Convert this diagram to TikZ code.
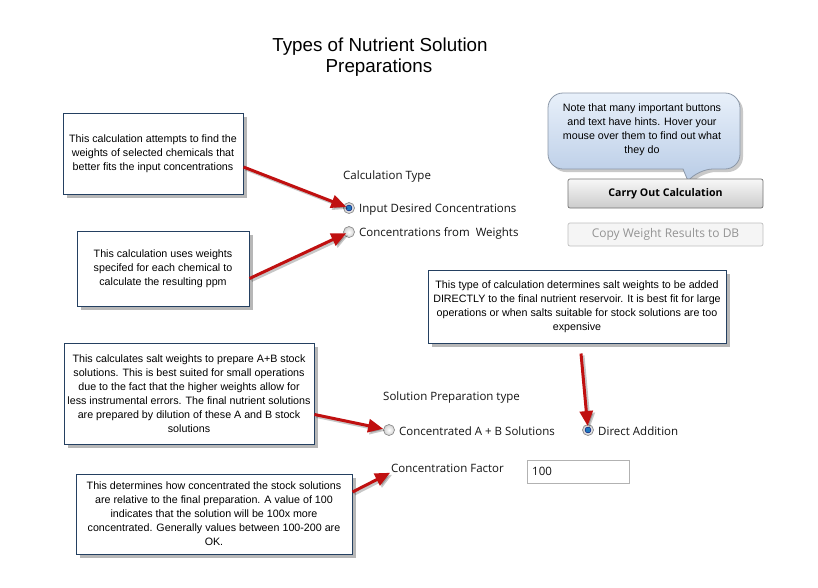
\documentclass[tikz,border=0pt]{standalone}
\usepackage{fontspec}
\setmainfont{Liberation Sans}
\newfontfamily\uifont{Open Sans}
\usetikzlibrary{shadows,arrows.meta,calc}
\definecolor{navy}{RGB}{36,64,97}
\definecolor{arrred}{RGB}{192,16,16}
\definecolor{bubtop}{RGB}{232,240,250}
\definecolor{bubbot}{RGB}{185,204,230}
\definecolor{bubedge}{RGB}{140,152,168}
\definecolor{dotblue}{RGB}{30,120,190}
\definecolor{uitext}{RGB}{20,20,20}
\tikzset{
  callout/.style={draw=navy, line width=1pt, fill=white, inner sep=0pt, align=center,
    font=\fontsize{10.7}{14}\selectfont,
    drop shadow={opacity=0.4, shadow xshift=4pt, shadow yshift=-4pt, fill=black!70}},
  redarrow/.style={draw=arrred, line width=3pt, -{Triangle[length=15pt,width=13pt]}},
  arrshadow/.style={draw=black, opacity=0.22, line width=3pt, -{Triangle[length=15pt,width=13pt]}},
  radio/.style={circle, draw=black!45, line width=0.7pt, inner sep=0pt, minimum size=11pt,
    inner color=white, outer color=black!18},
  radioon/.style={path picture={\fill[dotblue, draw=black!60!blue, line width=0.4pt]
    (path picture bounding box.center) circle (3pt);}},
  ui/.style={anchor=base west, inner sep=0pt, text=uitext, font=\uifont\fontsize{11.5}{13}\selectfont},
  bubble/.style={draw=bubedge, line width=0.8pt, top color=bubtop, bottom color=bubbot,
    drop shadow={opacity=0.35, shadow xshift=3pt, shadow yshift=-3pt, fill=black!60}},
  btnon/.style={draw=black!55, line width=0.7pt, rounded corners=2pt, top color=black!3, bottom color=black!20,
    minimum width=195pt, minimum height=29pt, inner sep=0pt,
    font=\uifont\bfseries\fontsize{10.6}{12}\selectfont, text=black},
  btnoff/.style={draw=black!25, line width=0.7pt, rounded corners=2pt, fill=black!4,
    minimum width=195pt, minimum height=23pt, inner sep=0pt,
    font=\uifont\fontsize{12}{13}\selectfont, text=black!42},
  tbox/.style={draw=black!30, line width=0.7pt, fill=white, minimum width=102pt, minimum height=23pt, inner sep=0pt},
  titlefont/.style={anchor=base, inner sep=0pt, font=\fontsize{18.8}{21}\selectfont, text=black}
}
\begin{document}
\begin{tikzpicture}[x=1pt,y=-1pt]
\useasboundingbox[fill=white] (0,0) rectangle (818,587);

% title
\node[titlefont] (t1) at (380,51) {Types of Nutrient Solution};
\node[titlefont] (t2) at (379,72) {Preparations};

% callouts
\node[callout, minimum width=180pt, minimum height=81pt] (c1) at (153,153.5)
  {This calculation attempts to find the\\ weights of selected chemicals that\\ better fits the input concentrations};
\node[callout, minimum width=172pt, minimum height=75pt] (c2) at (163,268.5)
  {This calculation uses weights\\ specifed for each chemical to\\ calculate the resulting ppm};
\node[callout, minimum width=298pt, minimum height=73pt] (c3) at (577,306.5)
  {This type of calculation determines salt weights to be added\\ DIRECTLY to the final nutrient reservoir. It is best fit for large\\ operations or when salts suitable for stock solutions are too\\ expensive};
\node[callout, minimum width=250pt, minimum height=101pt] (c4) at (189,393.5)
  {This calculates salt weights to prepare A+B stock\\ solutions. This is best suited for small operations\\ due to the fact that the higher weights allow for\\ less instrumental errors. The final nutrient solutions\\ are prepared by dilution of these A and B stock\\ solutions};
\node[callout, minimum width=276pt, minimum height=80pt] (c5) at (214,514)
  {This determines how concentrated the stock solutions\\ are relative to the final preparation. A value of 100\\ indicates that the solution will be 100x more\\ concentrated. Generally values between 100-200 are\\ OK.};

% speech bubble
\path[bubble] (548,93) [rounded corners=15pt] -- (740,93) -- (740,169) -- (698,169) [sharp corners] -- (688,181) -- (683,169) [rounded corners=15pt] -- (548,169) -- cycle;
\node[align=center, inner sep=0pt, font=\fontsize{10.7}{14}\selectfont] (bt) at (642,130)
  {Note that many important buttons\\ and text have hints. Hover your\\ mouse over them to find out what\\ they do};

% buttons
\node[btnon] (b1) at (665.5,193.5) {Carry Out Calculation};
\node[btnoff] (b2) at (665.5,234.5) {Copy Weight Results to DB};

% radio buttons and labels
\node[ui] (lct) at (343,179) {Calculation Type};
\node[radio, radioon] (r1) at (349,208) {};
\node[radio] (r2) at (349,232) {};
\node[ui] (l1) at (359,212.5) {Input Desired Concentrations};
\node[ui] (l2) at (359,236.5) {Concentrations from\ \ Weights};

\node[ui] (lspt) at (383,400) {Solution Preparation type};
\node[radio] (r3) at (389,430) {};
\node[radio, radioon] (r4) at (588,430) {};
\node[ui] (l3) at (399,435) {Concentrated A + B Solutions};
\node[ui] (l4) at (598,435) {Direct Addition};

\node[ui] (cf) at (391,472) {Concentration Factor};
\node[tbox] (tf) at (578,471.5) {};
\node[ui] (tv) at (532,475.5) {100};

% arrow start points
\coordinate (a1) at ([yshift=-13.5pt]c1.east);
\coordinate (a2) at ([yshift=-10pt]c2.east);
\coordinate (a3) at ([xshift=4pt,yshift=-10pt]c3.south);
\coordinate (a4) at ([yshift=-21pt]c4.east);
\coordinate (a5) at ([yshift=22pt]c5.east);

% arrow shadows
\begin{scope}[transform canvas={xshift=2pt,yshift=-2pt}]
\draw[arrshadow, shorten >=3pt] (a1) -- (r1.center);
\draw[arrshadow, shorten >=3pt] (a2) -- (r2.center);
\draw[arrshadow, shorten >=4pt] (a3) -- (r4.center);
\draw[arrshadow, shorten >=6pt] (a4) -- (r3.center);
\draw[arrshadow, shorten >=1pt] (a5) -- (cf.south west);
\end{scope}
% arrows
\draw[redarrow, shorten >=3pt] (a1) -- (r1.center);
\draw[redarrow, shorten >=3pt] (a2) -- (r2.center);
\draw[redarrow, shorten >=4pt] (a3) -- (r4.center);
\draw[redarrow, shorten >=6pt] (a4) -- (r3.center);
\draw[redarrow, shorten >=1pt] (a5) -- (cf.south west);
\end{tikzpicture}
\end{document}
